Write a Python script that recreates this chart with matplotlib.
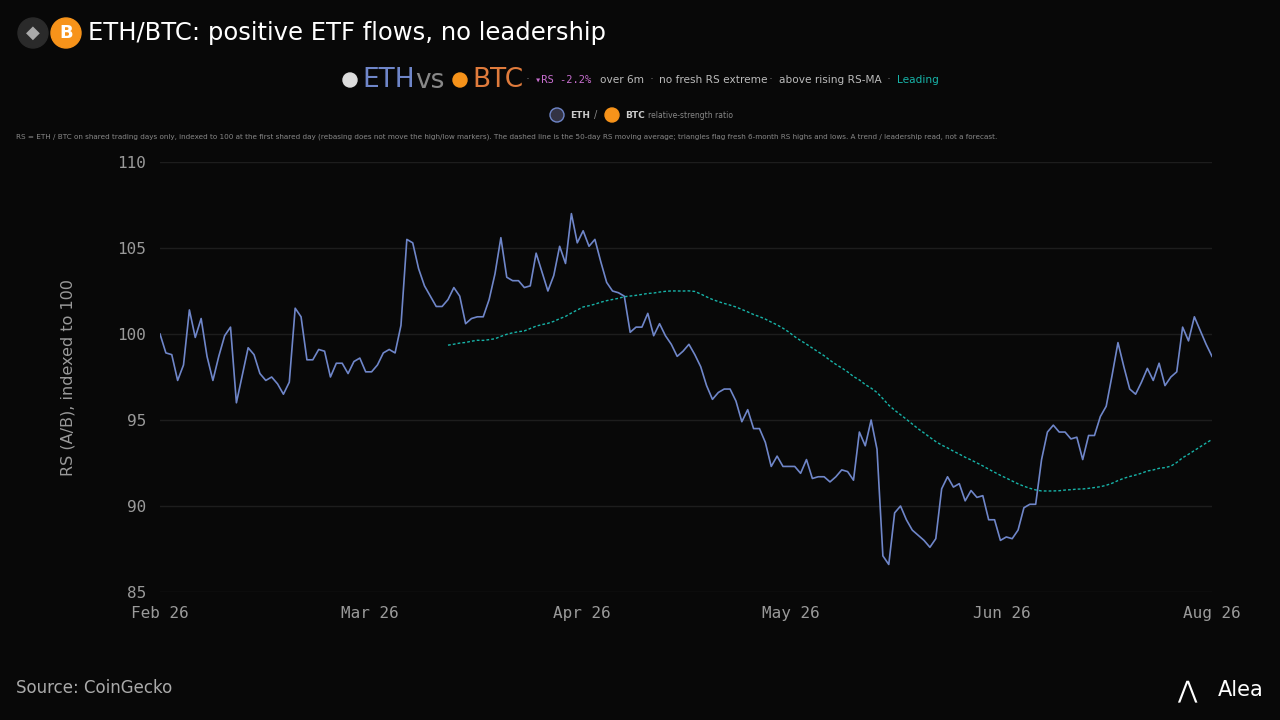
import matplotlib
matplotlib.use("Agg")
import matplotlib.pyplot as plt
import numpy as np
import pandas as pd
from matplotlib.patches import Circle

rs = [100.0, 98.9, 98.8, 97.3, 98.2, 101.4, 99.8, 100.9, 98.7, 97.3, 98.7, 99.9, 100.4, 96.0,
      97.6, 99.2, 98.8, 97.7, 97.3, 97.5, 97.1, 96.5, 97.2, 101.5, 101.0, 98.5, 98.5, 99.1,
      99.0, 97.5, 98.3, 98.3, 97.7, 98.4, 98.6, 97.8, 97.8, 98.2, 98.9, 99.1, 98.9, 100.5,
      105.5, 105.3, 103.8, 102.8, 102.2, 101.6, 101.6, 102.0, 102.7, 102.2, 100.6, 100.9,
      101.0, 101.0, 102.0, 103.5, 105.6, 103.3, 103.1, 103.1, 102.7, 102.8, 104.7, 103.6,
      102.5, 103.4, 105.1, 104.1, 107.0, 105.3, 106.0, 105.1, 105.5,
      104.2, 103.0, 102.5, 102.4, 102.2, 100.1, 100.4, 100.4, 101.2, 99.9, 100.6, 99.9, 99.4,
      98.7, 99.0, 99.4, 98.8, 98.1, 97.0, 96.2, 96.6, 96.8, 96.8, 96.1, 94.9, 95.6, 94.5, 94.5,
      93.7, 92.3, 92.9, 92.3, 92.3, 92.3, 91.9, 92.7, 91.6, 91.7, 91.7, 91.4, 91.7, 92.1, 92.0,
      91.5, 94.3, 93.5, 95.0, 93.3,
      87.1, 86.6, 89.6, 90.0, 89.2, 88.6, 88.3, 88.0, 87.6, 88.1, 91.0, 91.7, 91.1, 91.3, 90.3,
      90.9, 90.5, 90.6, 89.2, 89.2, 88.0, 88.2, 88.1, 88.6, 89.9, 90.1, 90.1, 92.7, 94.3, 94.7,
      94.3, 94.3, 93.9, 94.0, 92.7, 94.1, 94.1, 95.2, 95.8, 97.6, 99.5, 98.1, 96.8, 96.5, 97.2,
      98.0, 97.3, 98.3, 97.0, 97.5, 97.8, 100.4, 99.6, 101.0, 100.2, 99.4, 98.7]

tick_labels = ["Feb 26", "Mar 26", "Apr 26", "May 26", "Jun 26", "Aug 26"]
tick_px = [160, 370, 582, 791, 1002, 1212]

BG = "#080808"
BLUE = "#6f86c9"
TEAL = "#17b3a8"
GRAY = "#9a9a9a"

n = len(rs)
x = np.arange(n)
ma = pd.Series(rs).rolling(50).mean()

fig = plt.figure(figsize=(12.8, 7.2), dpi=100, facecolor=BG)
ax = fig.add_axes([160/1280, 1-592/720, (1212-160)/1280, (592-162)/720], facecolor=BG)
ax.plot(x, rs, color=BLUE, lw=1.2)
ax.plot(x, ma, color=TEAL, lw=1.0, ls=(0, (2, 1.5)))
ax.set_xlim(0, n-1)
ax.set_ylim(85, 110)
ax.set_yticks([85, 90, 95, 100, 105, 110])
ax.set_xticks([(p-160)/(1052)*(n-1) for p in tick_px])
ax.set_xticklabels(tick_labels)
ax.grid(axis="y", color="#1d1d1d", lw=1)
for s in ax.spines.values():
    s.set_visible(False)
ax.tick_params(length=0, colors=GRAY, labelsize=11.5, pad=10)
for t in ax.get_xticklabels() + ax.get_yticklabels():
    t.set_family("DejaVu Sans Mono")
ax.set_ylabel("RS (A/B), indexed to 100", color=GRAY, fontsize=11.5, labelpad=30)

def px(xp, yp):
    return xp/1280, 1-yp/720

# header
fig.patches.append(Circle((33, 720-33), 15, transform=None, color="#2a2a2a"))
fig.patches.append(Circle((66, 720-33), 15, transform=None, color="#f7931a"))
fig.text(*px(33, 33), "◆", color="#aaaaaa", fontsize=13, ha="center", va="center")
fig.text(*px(66, 33), "B", color="white", fontsize=13, ha="center", va="center", weight="bold")
fig.text(*px(88, 33), "ETH/BTC: positive ETF flows, no leadership", color="white",
         fontsize=17.5, ha="left", va="center")

fig.patches.append(Circle((350, 720-80), 7, transform=None, color="#dddddd"))
fig.text(*px(362, 80), "ETH", color=BLUE, fontsize=19, va="center")
fig.text(*px(415, 81), "vs", color="#888888", fontsize=19, va="center")
fig.patches.append(Circle((460, 720-80), 7, transform=None, color="#f7931a"))
fig.text(*px(472, 80), "BTC", color="#e07b3c", fontsize=19, va="center")
sub = 7.6
fig.text(*px(528, 80), "·", color="#666666", fontsize=9, va="center", ha="center")
fig.text(*px(535, 80), "▾RS -2.2%", color="#c86fd0", fontsize=7.5, va="center", family="DejaVu Sans Mono")
fig.text(*px(600, 80), "over 6m", color="#bbbbbb", fontsize=sub, va="center")
fig.text(*px(652, 80), "·", color="#666666", fontsize=9, va="center", ha="center")
fig.text(*px(659, 80), "no fresh RS extreme", color="#bbbbbb", fontsize=sub, va="center")
fig.text(*px(771, 80), "·", color="#666666", fontsize=9, va="center", ha="center")
fig.text(*px(779, 80), "above rising RS-MA", color="#bbbbbb", fontsize=sub, va="center")
fig.text(*px(889, 80), "·", color="#666666", fontsize=9, va="center", ha="center")
fig.text(*px(897, 80), "Leading", color=TEAL, fontsize=sub, va="center")

fig.patches.append(Circle((557, 720-115), 7, transform=None, color="#334", ec="#6f86c9"))
fig.text(*px(570, 115), "ETH", color="#cccccc", fontsize=6.5, va="center", weight="bold")
fig.text(*px(594, 115), "/", color="#888888", fontsize=7, va="center")
fig.patches.append(Circle((612, 720-115), 7, transform=None, color="#f7931a"))
fig.text(*px(625, 115), "BTC", color="#cccccc", fontsize=6.5, va="center", weight="bold")
fig.text(*px(648, 115), "relative-strength ratio", color="#888888", fontsize=5.5, va="center")

fig.text(*px(16, 137),
         "RS = ETH / BTC on shared trading days only, indexed to 100 at the first shared day (rebasing does not move the high/low markers). "
         "The dashed line is the 50-day RS moving average; triangles flag fresh 6-month RS highs and lows. A trend / leadership read, not a forecast.",
         color="#888888", fontsize=5.2, va="center")

fig.text(*px(16, 688), "Source: CoinGecko", color="#aaaaaa", fontsize=12, va="center")
fig.text(*px(1264, 690), "Alea", color="white", fontsize=15, va="center", ha="right")
fig.text(*px(1187, 690), "⋀", color="white", fontsize=17, va="center", ha="center")

fig.savefig("out.png", dpi=100, facecolor=BG)
